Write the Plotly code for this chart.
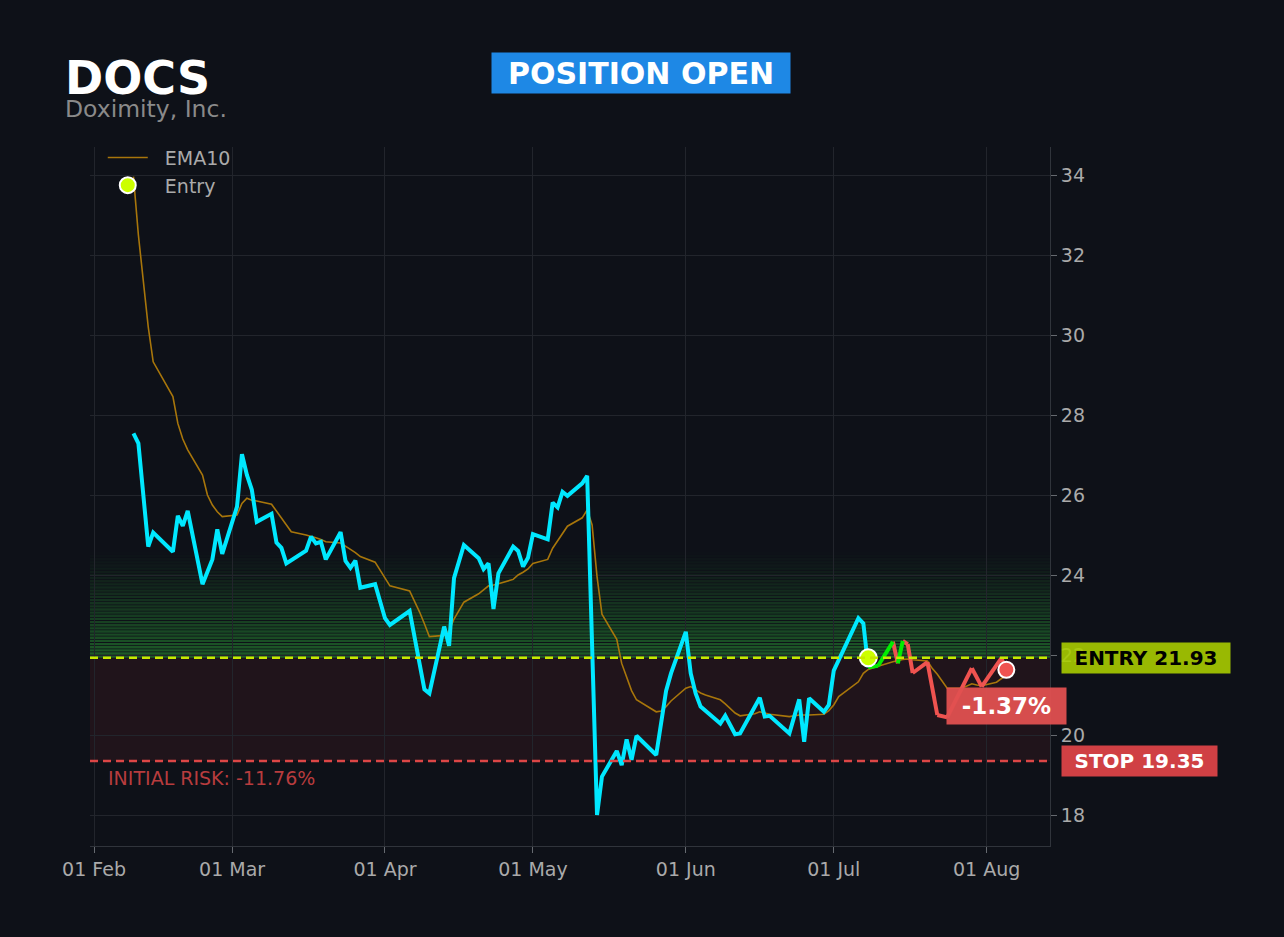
import plotly.graph_objects as go

# ---------------- data ----------------
TICKER = "DOCS"
COMPANY = "Doximity, Inc."
STATUS = "POSITION OPEN"
ENTRY_PRICE = 21.93
STOP_PRICE = 19.35
TARGET_ZONE_TOP = 24.6
ENTRY_DATE = "2026-07-08"

price_dates = [
    "2026-02-09", "2026-02-10", "2026-02-12", "2026-02-13", "2026-02-17", "2026-02-18", "2026-02-19",
    "2026-02-20", "2026-02-23", "2026-02-25", "2026-02-26", "2026-02-27", "2026-03-02", "2026-03-03",
    "2026-03-04", "2026-03-05", "2026-03-06", "2026-03-09", "2026-03-10", "2026-03-11", "2026-03-12",
    "2026-03-16", "2026-03-17", "2026-03-18", "2026-03-19", "2026-03-20", "2026-03-23", "2026-03-24",
    "2026-03-25", "2026-03-26", "2026-03-27", "2026-03-30", "2026-04-01", "2026-04-02", "2026-04-06",
    "2026-04-09", "2026-04-10", "2026-04-13", "2026-04-14", "2026-04-15", "2026-04-17", "2026-04-20",
    "2026-04-21", "2026-04-22", "2026-04-23", "2026-04-24", "2026-04-27", "2026-04-28", "2026-04-29",
    "2026-04-30", "2026-05-01", "2026-05-04", "2026-05-05", "2026-05-06", "2026-05-07", "2026-05-08",
    "2026-05-11", "2026-05-12", "2026-05-14", "2026-05-15", "2026-05-18", "2026-05-19", "2026-05-20",
    "2026-05-21", "2026-05-22", "2026-05-26", "2026-05-28", "2026-05-29", "2026-06-01", "2026-06-02",
    "2026-06-03", "2026-06-04", "2026-06-08", "2026-06-09", "2026-06-11", "2026-06-12", "2026-06-16",
    "2026-06-17", "2026-06-18", "2026-06-22", "2026-06-24", "2026-06-25", "2026-06-26", "2026-06-29",
    "2026-06-30", "2026-07-01", "2026-07-06", "2026-07-07", "2026-07-08",
]
price_values = [
    27.54, 27.29, 24.71, 25.06, 24.58, 25.48, 25.23,
    25.60, 23.77, 24.39, 25.14, 24.53, 25.71, 27.02,
    26.50, 26.13, 25.33, 25.53, 24.81, 24.68, 24.29,
    24.61, 24.96, 24.79, 24.83, 24.39, 25.07, 24.35,
    24.18, 24.36, 23.68, 23.77, 22.92, 22.75, 23.10,
    21.14, 21.04, 22.71, 22.23, 23.92, 24.75, 24.42,
    24.15, 24.29, 23.15, 24.04, 24.71, 24.60, 24.21,
    24.43, 25.02, 24.89, 25.81, 25.69, 26.08, 25.98,
    26.29, 26.48, 18.00, 18.96, 19.60, 19.25, 19.89,
    19.38, 19.98, 19.50, 21.10, 21.54, 22.58, 21.54,
    21.04, 20.71, 20.29, 20.48, 20.02, 20.04, 20.93,
    20.46, 20.48, 20.04, 20.89, 19.83, 20.92, 20.58,
    20.75, 21.61, 22.92, 22.79, 21.69,
]

trade_dates = [
    "2026-07-08", "2026-07-10", "2026-07-13", "2026-07-14", "2026-07-15", "2026-07-16", "2026-07-17",
    "2026-07-20", "2026-07-22", "2026-07-24", "2026-07-29", "2026-07-31", "2026-08-04", "2026-08-05",
]
trade_values = [
    21.69, 21.73, 22.33, 21.79, 22.35, 22.27, 21.55,
    21.82, 20.50, 20.44, 21.67, 21.21, 21.92, 21.63,
]

ema_dates = [
    "2026-02-09", "2026-02-10", "2026-02-12", "2026-02-13", "2026-02-17", "2026-02-18", "2026-02-19",
    "2026-02-20", "2026-02-23", "2026-02-24", "2026-02-25", "2026-02-26", "2026-02-27", "2026-03-02",
    "2026-03-03", "2026-03-04", "2026-03-05", "2026-03-06", "2026-03-09", "2026-03-10", "2026-03-11",
    "2026-03-12", "2026-03-13", "2026-03-16", "2026-03-17", "2026-03-18", "2026-03-19", "2026-03-20",
    "2026-03-23", "2026-03-24", "2026-03-25", "2026-03-26", "2026-03-27", "2026-03-30", "2026-03-31",
    "2026-04-01", "2026-04-02", "2026-04-06", "2026-04-07", "2026-04-08", "2026-04-09", "2026-04-10",
    "2026-04-13", "2026-04-14", "2026-04-15", "2026-04-16", "2026-04-17", "2026-04-20", "2026-04-21",
    "2026-04-22", "2026-04-23", "2026-04-24", "2026-04-27", "2026-04-28", "2026-04-29", "2026-04-30",
    "2026-05-01", "2026-05-04", "2026-05-05", "2026-05-06", "2026-05-07", "2026-05-08", "2026-05-11",
    "2026-05-12", "2026-05-13", "2026-05-14", "2026-05-15", "2026-05-18", "2026-05-19", "2026-05-20",
    "2026-05-21", "2026-05-22", "2026-05-26", "2026-05-27", "2026-05-28", "2026-05-29", "2026-06-01",
    "2026-06-02", "2026-06-03", "2026-06-04", "2026-06-05", "2026-06-08", "2026-06-09", "2026-06-10",
    "2026-06-11", "2026-06-12", "2026-06-15", "2026-06-16", "2026-06-17", "2026-06-18", "2026-06-22",
    "2026-06-23", "2026-06-24", "2026-06-25", "2026-06-26", "2026-06-29", "2026-06-30", "2026-07-01",
    "2026-07-02", "2026-07-06", "2026-07-07", "2026-07-08", "2026-07-09", "2026-07-10", "2026-07-13",
    "2026-07-14", "2026-07-15", "2026-07-16", "2026-07-17", "2026-07-20", "2026-07-21", "2026-07-22",
    "2026-07-23", "2026-07-24", "2026-07-27", "2026-07-28", "2026-07-29", "2026-07-30", "2026-07-31",
    "2026-08-03", "2026-08-04", "2026-08-05",
]
ema_values = [
    33.96, 32.50, 30.20, 29.33, 28.46, 27.79, 27.40,
    27.13, 26.50, 26.00, 25.75, 25.58, 25.46, 25.50,
    25.79, 25.92, 25.87, 25.85, 25.77, 25.59, 25.42,
    25.24, 25.08, 25.00, 24.97, 24.93, 24.89, 24.83,
    24.80, 24.71, 24.64, 24.56, 24.46, 24.32, 24.12,
    23.93, 23.73, 23.60, 23.35, 23.08, 22.78, 22.46,
    22.49, 22.60, 22.90, 23.12, 23.32, 23.53, 23.62,
    23.73, 23.75, 23.78, 23.89, 24.00, 24.07, 24.15,
    24.29, 24.39, 24.67, 24.85, 25.05, 25.22, 25.43,
    25.63, 25.25, 23.96, 23.02, 22.39, 21.79, 21.45,
    21.11, 20.88, 20.58, 20.60, 20.71, 20.85, 21.17,
    21.21, 21.13, 21.05, 21.00, 20.88, 20.78, 20.66,
    20.55, 20.48, 20.53, 20.58, 20.55, 20.52, 20.46,
    20.48, 20.50, 20.50, 20.50, 20.52, 20.61, 20.75,
    20.96, 21.33, 21.54, 21.64, 21.69, 21.72, 21.83,
    21.86, 21.89, 21.90, 21.88, 21.85, 21.66, 21.52,
    21.35, 21.17, 21.17, 21.23, 21.28, 21.25, 21.23,
    21.32, 21.42, 21.50,
]

x_range = ["2026-01-31 04:30", "2026-08-13 20:25"]
y_range = [17.225, 34.7]

# ---------------- styles ----------------
BG = "#0e1118"
FONT = "DejaVu Sans"
CYAN = "#00e8ff"
GREEN = "#00ee00"
RED = "#ef5350"
EMA_C = "#a8760b"
LIME = "#ccff00"
NB = "\u00a0"

fig = go.Figure()

# EMA10
fig.add_trace(go.Scatter(x=ema_dates, y=ema_values, mode="lines", name=NB * 2 + "EMA10",
                         line=dict(color=EMA_C, width=1.6), hoverinfo="skip"))

# price before entry
fig.add_trace(go.Scatter(x=price_dates, y=price_values, mode="lines", showlegend=False,
                         line=dict(color=CYAN, width=4), hoverinfo="skip"))

# after entry: green on new highs since entry, red otherwise
gx, gy, rx, ry = [], [], [], []
run_max = trade_values[0]
for i in range(1, len(trade_values)):
    seg_x = [trade_dates[i - 1], trade_dates[i], None]
    seg_y = [trade_values[i - 1], trade_values[i], None]
    if trade_values[i] > run_max:
        gx += seg_x
        gy += seg_y
    else:
        rx += seg_x
        ry += seg_y
    run_max = max(run_max, trade_values[i])
fig.add_trace(go.Scatter(x=rx, y=ry, mode="lines", showlegend=False,
                         line=dict(color=RED, width=4), hoverinfo="skip"))
fig.add_trace(go.Scatter(x=gx, y=gy, mode="lines", showlegend=False,
                         line=dict(color=GREEN, width=4), hoverinfo="skip"))

# entry marker
fig.add_trace(go.Scatter(x=[ENTRY_DATE], y=[ENTRY_PRICE], mode="markers", name=NB * 2 + "Entry",
                         marker=dict(color=LIME, size=17, line=dict(color="white", width=2)),
                         hoverinfo="skip"))
# last price marker
fig.add_trace(go.Scatter(x=[trade_dates[-1]], y=[trade_values[-1]], mode="markers", showlegend=False,
                         marker=dict(color=RED, size=16, line=dict(color="white", width=2)),
                         hoverinfo="skip"))

shapes = []
# risk zone
shapes.append(dict(type="rect", xref="paper", x0=0, x1=1, yref="y", y0=STOP_PRICE, y1=ENTRY_PRICE,
                   fillcolor="rgba(220,53,69,0.09)", line=dict(width=0), layer="below"))
# gradient profit zone (stripes)
N = 34
h = (TARGET_ZONE_TOP - ENTRY_PRICE) / N
for i in range(N):
    a = 0.52 * (1 - i / N) ** 1.1
    shapes.append(dict(type="rect", xref="paper", x0=0, x1=1, yref="y",
                       y0=ENTRY_PRICE + i * h, y1=ENTRY_PRICE + i * h + 0.75 * h,
                       fillcolor=f"rgba(44,160,56,{a:.3f})", line=dict(width=0), layer="below"))
# entry & stop lines
shapes.append(dict(type="line", xref="paper", x0=0, x1=1, yref="y", y0=ENTRY_PRICE, y1=ENTRY_PRICE,
                   line=dict(color="#c8e800", width=2.4, dash="8px,5px")))
shapes.append(dict(type="line", xref="paper", x0=0, x1=1, yref="y", y0=STOP_PRICE, y1=STOP_PRICE,
                   line=dict(color="#dc4646", width=2.4, dash="8px,5px")))

pnl = (trade_values[-1] / ENTRY_PRICE - 1) * 100
risk = (STOP_PRICE / ENTRY_PRICE - 1) * 100

annotations = [
    dict(text=f"<b>{TICKER}</b>", xref="paper", yref="paper", x=-0.028, y=1.099, xanchor="left",
         yanchor="middle", showarrow=False, font=dict(family=FONT, size=46, color="white")),
    dict(text=COMPANY, xref="paper", yref="paper", x=-0.028, y=1.055, xanchor="left",
         yanchor="middle", showarrow=False, font=dict(family=FONT, size=23.5, color="#8a8a8a")),
    dict(text=f"<b>{STATUS}</b>", xref="paper", yref="paper", x=0.574, y=1.106, xanchor="center",
         yanchor="middle", showarrow=False, font=dict(family=FONT, size=30, color="white"),
         bgcolor="#1e88e5", borderpad=0, width=298, height=40, align="center", valign="middle"),
    dict(text=f"<b>ENTRY {ENTRY_PRICE:.2f}</b>", xref="paper", yref="y", x=1.0115, y=ENTRY_PRICE,
         xanchor="left", yanchor="middle", showarrow=False, font=dict(family=FONT, size=20, color="black"),
         bgcolor="rgba(168,204,0,0.9)", borderpad=0, width=168, height=30, align="center", valign="middle"),
    dict(text=f"<b>STOP {STOP_PRICE:.2f}</b>", xref="paper", yref="y", x=1.0115, y=STOP_PRICE,
         xanchor="left", yanchor="middle", showarrow=False, font=dict(family=FONT, size=20, color="white"),
         bgcolor="#d04044", borderpad=0, width=155, height=30, align="center", valign="middle"),
    dict(text=f"<b>{pnl:+.2f}%</b>", xref="paper", yref="paper", x=0.9545, y=0.2006,
         xanchor="center", yanchor="middle", showarrow=False, font=dict(family=FONT, size=23, color="white"),
         bgcolor="rgba(224,80,80,0.95)", borderpad=0, width=119, height=36, align="center", valign="middle"),
    dict(text=f"INITIAL RISK: {risk:.2f}%", xref="paper", yref="paper", x=0.0167, y=0.0973,
         xanchor="left", yanchor="middle", showarrow=False, font=dict(family=FONT, size=19, color="#b83c3e")),
]

fig.update_layout(
    width=1284, height=937, autosize=False,
    paper_bgcolor=BG, plot_bgcolor=BG,
    margin=dict(l=90, r=234, t=147, b=91),
    font=dict(family=FONT, size=19, color="#aaaaaa"),
    shapes=shapes, annotations=annotations,
    showlegend=True,
    legend=dict(x=0.0133, y=1.012, xanchor="left", yanchor="top", bgcolor="rgba(0,0,0,0)",
                font=dict(family=FONT, size=19, color="#aaaaaa"), itemwidth=40),
    xaxis=dict(range=x_range, type="date", dtick="M1", tick0="2026-02-01", tickformat="%d %b",
               showgrid=True, gridcolor="#22252c", gridwidth=1, zeroline=False,
               showline=True, linecolor="#30343b", linewidth=1,
               ticks="outside", ticklen=6, tickcolor="#666a70",
               tickfont=dict(family=FONT, size=19, color="#aaaaaa")),
    yaxis=dict(range=y_range, side="right", dtick=2, tick0=18, showgrid=True, gridcolor="#22252c",
               gridwidth=1, zeroline=False, showline=True, linecolor="#30343b", linewidth=1,
               ticks="outside", ticklen=6, tickcolor="#666a70",
               tickfont=dict(family=FONT, size=19, color="#aaaaaa")),
)

fig.write_html("out.html", config={"displayModeBar": False},
               post_script="document.body.style.margin='0';document.body.style.background='#0e1118';")
